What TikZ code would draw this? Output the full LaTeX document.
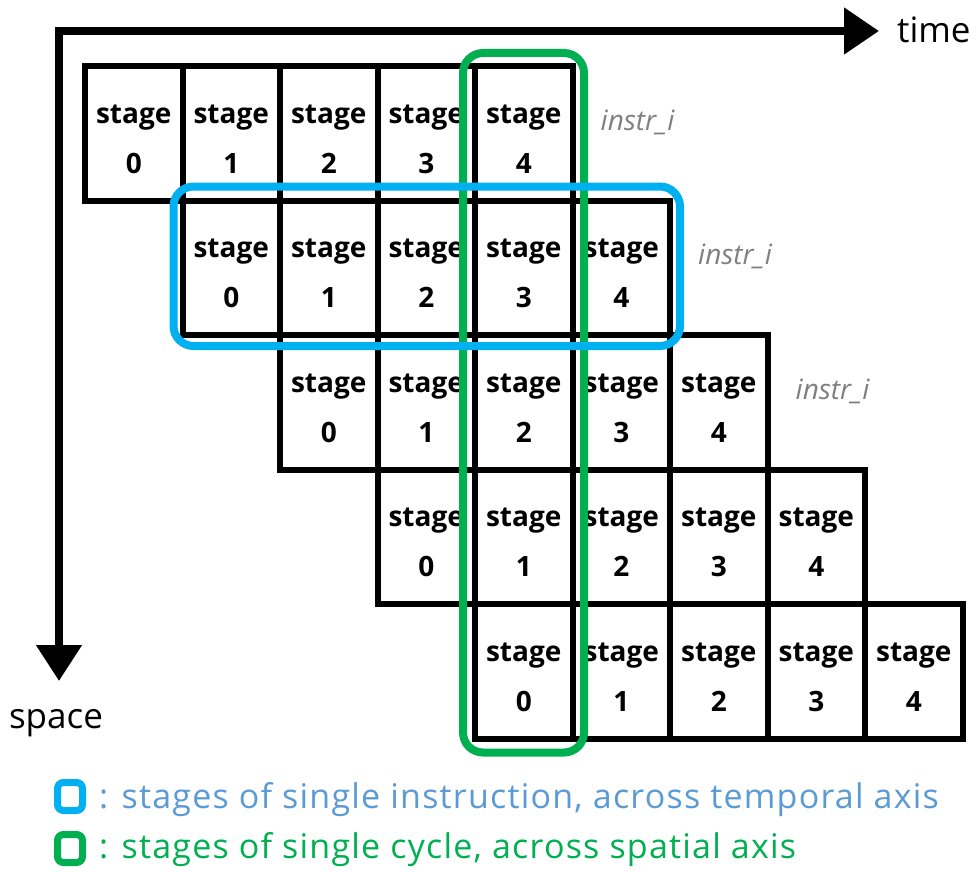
\documentclass[tikz,border=0pt]{standalone}
\usepackage{fontspec}
\setmainfont{Open Sans}
\newfontfamily\legendfont[LetterSpace=3.6]{Open Sans}
\usetikzlibrary{arrows.meta}
\definecolor{cycgreen}{HTML}{00B050}
\definecolor{instblue}{HTML}{00B0F0}
\definecolor{legblue}{HTML}{5B9BD5}
\definecolor{labgray}{HTML}{808080}
% first line gets a tall strut so the two-line label sits a little low in the cell
\newcommand\stagelabel[1]{\rule{0pt}{30pt}stage\\#1}
\begin{document}
\begin{tikzpicture}[x=1pt,y=-1pt,
  cell/.style={draw=black, line width=6pt, minimum width=97.5pt,
    minimum height=134.5pt, inner sep=0pt, align=center,
    font=\fontsize{28}{50}\selectfont\bfseries},
  instlab/.style={font=\fontsize{28}{34}\selectfont\itshape, text=labgray,
    anchor=base west, inner sep=0pt},
  axis/.style={line width=8pt, line join=miter,
    {Triangle[length=35pt,width=45pt]}-{Triangle[length=36pt,width=44pt]}},
  axlab/.style={font=\fontsize{35}{40}\selectfont, inner sep=0pt},
  keybox/.style={line width=7pt, rounded corners=6pt, minimum width=25pt,
    minimum height=28pt, inner sep=0pt},
  legtext/.style={font=\legendfont\fontsize{34}{40}\selectfont, anchor=base west, inner sep=0pt},
  group/.style={line width=8pt, rounded corners=20pt}
]
\useasboundingbox (0,0) rectangle (977,872);

% time / space axes
\coordinate (tEnd) at (879,31);
\coordinate (origin) at (59,31);
\coordinate (sEnd) at (59,681);
\draw[axis] (tEnd) -- (origin) -- (sEnd);
\node[axlab, anchor=base west] (tlab) at ([xshift=18pt,yshift=-12pt]tEnd) {time};
\node[axlab, anchor=base] (slab) at ([xshift=-3pt,yshift=-47pt]sEnd) {space};

% pipeline table: one row per instruction, shifted one cycle each
\foreach \r in {0,...,4}{
  \foreach \c in {0,...,4}{
    \pgfmathsetmacro\cx{85+97.5*(\r+\c)+48.75}
    \pgfmathsetmacro\cy{66+134.5*\r+67.25}
    \node[cell] (c\r\c) at (\cx,\cy) {\stagelabel{\c}};
  }
}

% instruction labels
\foreach \r in {0,1,2}{
  \node[instlab] (lab\r) at ([xshift=25pt,yshift=3pt]c\r4.east) {instr\_i};
}

% single cycle across space
\draw[group, cycgreen] ([shift={(-9,-10)}]c04.north west) rectangle ([shift={(8.5,11)}]c40.south east);
% single instruction across time
\draw[group, instblue] ([shift={(-6,-11)}]c10.north west) rectangle ([shift={(7,8)}]c14.south east);

% legend
\node[keybox, draw=instblue] (kblue) at (70,796.5) {};
\node[keybox, draw=cycgreen] (kgreen) at (70,848.5) {};
\node[legtext, text=legblue] (tblue) at (99,808) {: stages of single instruction, across temporal axis};
\node[legtext, text=cycgreen] (tgreen) at (99,858) {: stages of single cycle, across spatial axis};
\end{tikzpicture}
\end{document}
